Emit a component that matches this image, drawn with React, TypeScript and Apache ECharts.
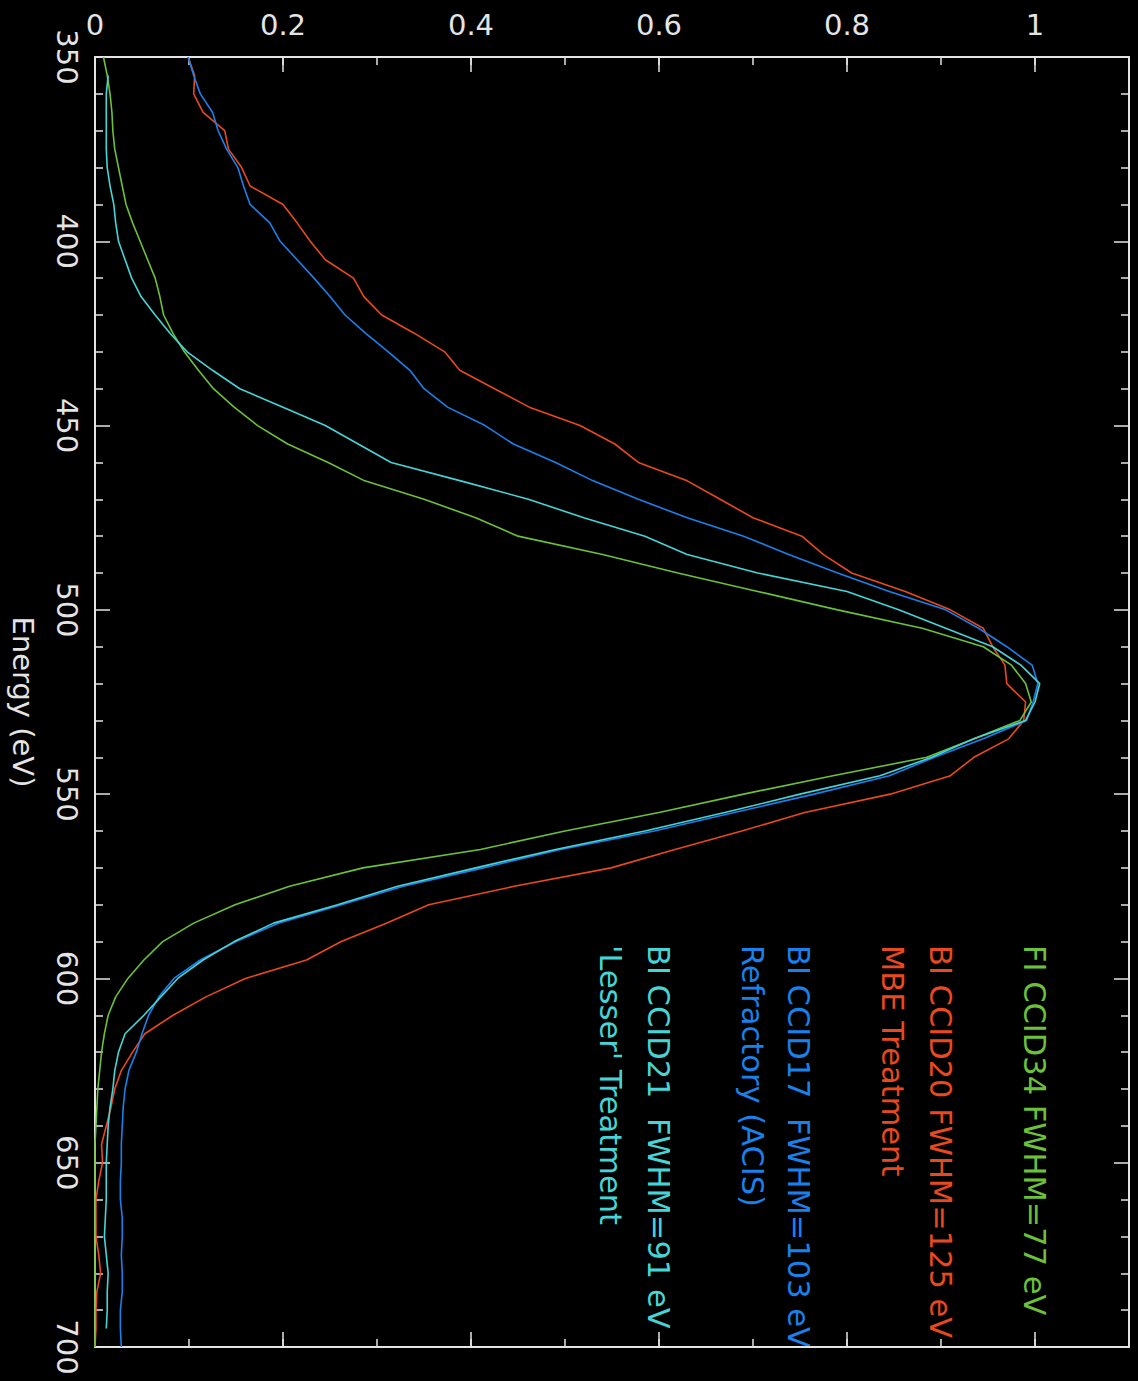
import React, { useEffect, useRef } from "react";
import * as echarts from "echarts";

// Energy grid (eV)
const energy = [
  350, 355, 360, 365, 370, 375, 380, 385, 390, 395,
  400, 405, 410, 415, 420, 425, 430, 435, 440, 445,
  450, 455, 460, 465, 470, 475, 480, 485, 490, 495,
  500, 505, 510, 515, 520, 525, 530, 535, 540, 545,
  550, 555, 560, 565, 570, 575, 580, 585, 590, 595,
  600, 605, 610, 615, 620, 625, 630, 635, 640, 645,
  650, 655, 660, 665, 670, 675, 680, 685, 690, 695, 700,
];

// FI CCID34 (green)
const fiCcid34 = [
  0.009, 0.013, 0.016, 0.018, 0.019, 0.021, 0.025, 0.029, 0.033, 0.040,
  0.048, 0.056, 0.064, 0.069, 0.073, 0.083, 0.095, 0.110, 0.126, 0.148,
  0.173, 0.205, 0.248, 0.287, 0.350, 0.405, 0.450, 0.540, 0.620, 0.705,
  0.790, 0.880, 0.945, 0.975, 0.990, 0.996, 0.984, 0.935, 0.885, 0.785,
  0.690, 0.600, 0.500, 0.410, 0.285, 0.207, 0.149, 0.105, 0.072, 0.052,
  0.035, 0.022, 0.014, 0.010, 0.007, 0.005, 0.003, 0.002, 0.001, 0.000,
  0.000, 0.000, 0.000, 0.000, 0.000, 0.000, 0.000, 0.000, 0.000, 0.000, 0.000,
];

// BI CCID20 MBE (red)
const biCcid20 = [
  0.099, 0.106, 0.105, 0.115, 0.138, 0.142, 0.156, 0.165, 0.200, 0.215,
  0.229, 0.245, 0.275, 0.286, 0.305, 0.340, 0.372, 0.388, 0.425, 0.462,
  0.516, 0.553, 0.578, 0.630, 0.665, 0.700, 0.752, 0.775, 0.805, 0.862,
  0.910, 0.945, 0.955, 0.968, 0.970, 0.990, 0.988, 0.972, 0.935, 0.910,
  0.846, 0.755, 0.688, 0.617, 0.549, 0.446, 0.355, 0.310, 0.262, 0.225,
  0.160, 0.118, 0.083, 0.053, 0.040, 0.028, 0.021, 0.017, 0.012, 0.007,
  0.008, 0.004, 0.001, 0.001, 0.001, 0.004, 0.006, 0.002, 0.001, 0.001, 0.000,
];

// BI CCID17 Refractory (blue)
const biCcid17 = [
  0.099, 0.105, 0.112, 0.125, 0.131, 0.140, 0.152, 0.158, 0.165, 0.186,
  0.197, 0.215, 0.233, 0.250, 0.266, 0.288, 0.312, 0.335, 0.350, 0.375,
  0.415, 0.445, 0.490, 0.530, 0.578, 0.630, 0.690, 0.738, 0.790, 0.845,
  0.905, 0.940, 0.970, 0.997, 1.003, 0.998, 0.991, 0.945, 0.893, 0.845,
  0.765, 0.680, 0.595, 0.495, 0.413, 0.328, 0.262, 0.195, 0.150, 0.112,
  0.084, 0.068, 0.057, 0.050, 0.044, 0.036, 0.032, 0.030, 0.029, 0.028,
  0.028, 0.027, 0.027, 0.029, 0.029, 0.028, 0.029, 0.029, 0.027, 0.027, 0.028,
];

// BI CCID21 'Lesser' (cyan)
const biCcid21 = [
  null, 0.014, 0.012, 0.012, 0.012, 0.012, 0.013, 0.016, 0.020, 0.022,
  0.025, 0.032, 0.039, 0.049, 0.064, 0.080, 0.098, 0.125, 0.154, 0.200,
  0.245, 0.280, 0.315, 0.389, 0.461, 0.520, 0.585, 0.630, 0.705, 0.800,
  0.855, 0.905, 0.955, 0.985, 1.005, 1.000, 0.990, 0.935, 0.890, 0.835,
  0.750, 0.670, 0.585, 0.490, 0.405, 0.322, 0.258, 0.190, 0.148, 0.115,
  0.088, 0.070, 0.052, 0.032, 0.025, 0.021, 0.019, 0.016, 0.014, 0.013,
  0.012, 0.012, 0.012, 0.011, 0.010, 0.012, 0.014, 0.013, 0.013, 0.012, null,
];

const seriesNames = [
  "FI CCID34 FWHM=77 eV",
  "BI CCID20 FWHM=125 eV",
  "BI CCID17  FWHM=103 eV",
  "BI CCID21  FWHM=91 eV",
];
const seriesColors = ["#6cc03a", "#e8491f", "#1a80ea", "#46d4d6"];

const legendText = [
  "FI CCID34 FWHM=77 eV",
  "BI CCID20 FWHM=125 eV",
  "MBE Treatment",
  "BI CCID17  FWHM=103 eV",
  "Refractory (ACIS)",
  "BI CCID21  FWHM=91 eV",
  "'Lesser' Treatment",
];
const legendSeries = [0, 1, 1, 2, 2, 3, 3];

const FONT = '"DejaVu Sans", sans-serif';
const FG = "#e4e4e4";

function pairs(vals: (number | null)[]) {
  const out: number[][] = [];
  energy.forEach((e, i) => {
    const v = vals[i];
    if (v !== null && v !== undefined) out.push([v, e]);
  });
  return out;
}

export default function App() {
  const ref = useRef<HTMLDivElement>(null);

  useEffect(() => {
    if (!ref.current) return;
    document.body.style.background = "#000";
    const chart = echarts.init(ref.current, null, { renderer: "svg" });

    const lineStyle = { color: FG, width: 2 };
    const majorX = (position: string, showLabel: boolean) => ({
      type: "value",
      position,
      min: 0,
      max: 1.1,
      interval: 0.2,
      axisLine: { show: true, onZero: false, lineStyle },
      axisTick: { show: true, inside: true, length: 15, lineStyle: { color: FG, width: 1.5 } },
      axisLabel: {
        show: showLabel,
        color: FG,
        fontSize: 29,
        fontFamily: FONT,
        margin: 18,
        showMaxLabel: false,
        formatter: (v: number) => String(Number(v.toFixed(1))),
      },
      splitLine: { show: false },
    });
    const minorX = (position: string) => ({
      type: "value",
      position,
      min: 0,
      max: 1.1,
      interval: 0.1,
      axisLine: { show: false, onZero: false },
      axisTick: { show: true, inside: true, length: 8, lineStyle: { color: FG, width: 1.5 } },
      axisLabel: { show: false },
      splitLine: { show: false },
    });
    const yAx = (position: string, showLabel: boolean) => ({
      type: "value",
      position,
      inverse: true,
      min: 350,
      max: 700,
      interval: 50,
      ...(showLabel
        ? {
            name: "Energy (eV)",
            nameLocation: "middle",
            nameGap: 58,
            nameRotate: -90,
            nameTextStyle: { color: FG, fontSize: 29, fontFamily: FONT },
          }
        : {}),
      axisLine: { show: true, onZero: false, lineStyle },
      axisTick: { show: true, inside: true, length: 15, lineStyle: { color: FG, width: 1.5 } },
      minorTick: { show: true, splitNumber: 5, length: 8, lineStyle: { color: FG, width: 1.5 } },
      axisLabel: {
        show: showLabel,
        rotate: -90,
        color: FG,
        fontSize: 29,
        fontFamily: FONT,
        margin: 14,
      },
      splitLine: { show: false },
      minorSplitLine: { show: false },
    });

    const allSeries = [biCcid20, biCcid17, fiCcid34, biCcid21];
    const order = [1, 2, 0, 3];

    chart.setOption({
      animation: false,
      backgroundColor: "#000",
      grid: { left: 95, top: 57, width: 1034, height: 1290, containLabel: false },
      xAxis: [majorX("top", true), majorX("bottom", false), minorX("top"), minorX("bottom")],
      yAxis: [yAx("left", true), yAx("right", false)],
      series: allSeries.map((vals, k) => ({
        type: "line",
        name: seriesNames[order[k]],
        data: pairs(vals),
        xAxisIndex: 0,
        yAxisIndex: 0,
        symbol: "none",
        showSymbol: false,
        clip: true,
        lineStyle: { color: seriesColors[order[k]], width: 1.6 },
        itemStyle: { color: seriesColors[order[k]] },
      })),
      graphic: legendText.map((t, i) => ({
        type: "text",
        x: [1034, 940.5, 892.5, 798.5, 752.5, 658.5, 610.5][i],
        y: 945,
        rotation: -Math.PI / 2,
        silent: true,
        style: {
          text: t,
          fill: seriesColors[legendSeries[i]],
          fontSize: 30.5,
          fontFamily: FONT,
          textAlign: "left",
          verticalAlign: "middle",
        },
      })),
    } as any);

    return () => chart.dispose();
  }, []);

  return (
    <div
      ref={ref}
      style={{ position: "absolute", left: 0, top: 0, width: 1138, height: 1381, background: "#000" }}
    />
  );
}
